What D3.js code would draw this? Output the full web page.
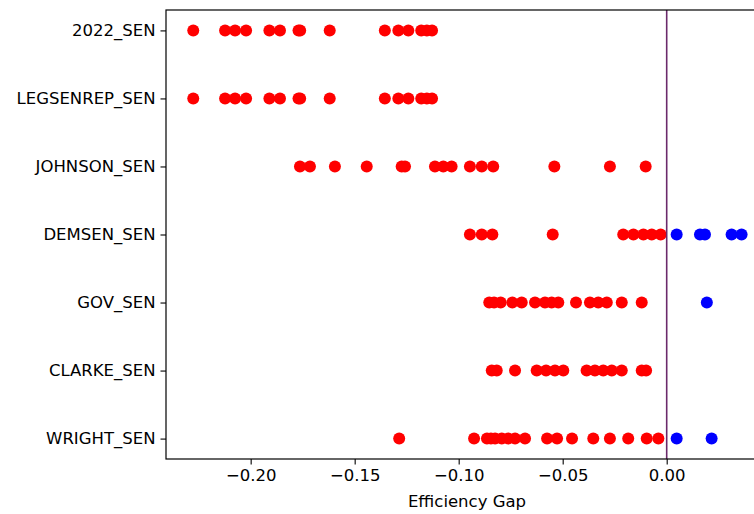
<!DOCTYPE html>
<html>
<head>
<meta charset="utf-8">
<script src="https://cdn.jsdelivr.net/npm/d3@7"></script>
<style>
  html, body { margin: 0; padding: 0; background: #fff; overflow: hidden; }
  text { font-family: "DejaVu Sans", sans-serif; }
</style>
</head>
<body>
<svg id="chart" width="754" height="514"></svg>
<script>
// Categories, bottom to top
const categories = ["WRIGHT_SEN", "CLARKE_SEN", "GOV_SEN", "DEMSEN_SEN", "JOHNSON_SEN", "LEGSENREP_SEN", "2022_SEN"];

// Efficiency gap values for each category
const wrightValues = [-0.1286, -0.0926, -0.0864, -0.0845, -0.0825, -0.0793, -0.0762, -0.0729, -0.0681, -0.0575, -0.0527, -0.0455, -0.0353, -0.0273, -0.0185, -0.0096, -0.0040, 0.0048, 0.0216];
const clarkeValues = [-0.0841, -0.0817, -0.0729, -0.0625, -0.0580, -0.0537, -0.0497, -0.0385, -0.0345, -0.0305, -0.0264, -0.0216, -0.0120, -0.0099];
const govValues = [-0.0853, -0.0830, -0.0798, -0.0742, -0.0697, -0.0633, -0.0585, -0.0553, -0.0521, -0.0436, -0.0369, -0.0329, -0.0288, -0.0216, -0.0120, 0.0193];
const demsenValues = [-0.0946, -0.0889, -0.0838, -0.0548, -0.0209, -0.0160, -0.0112, -0.0072, -0.0029, 0.0048, 0.0160, 0.0184, 0.0312, 0.0360];
const johnsonValues = [-0.1763, -0.1715, -0.1595, -0.1442, -0.1274, -0.1258, -0.1114, -0.1074, -0.1034, -0.0946, -0.0889, -0.0834, -0.0540, -0.0273, -0.0101];
const legsenrepValues = [-0.2276, -0.2123, -0.2075, -0.2022, -0.1910, -0.1859, -0.1770, -0.1762, -0.1620, -0.1355, -0.1290, -0.1242, -0.1180, -0.1153, -0.1128];
const sen2022Values = [-0.2276, -0.2123, -0.2075, -0.2022, -0.1910, -0.1859, -0.1770, -0.1762, -0.1620, -0.1355, -0.1290, -0.1242, -0.1180, -0.1153, -0.1128];

const seriesValues = [wrightValues, clarkeValues, govValues, demsenValues, johnsonValues, legsenrepValues, sen2022Values];

// Tick values / labels
const xTicks = [-0.20, -0.15, -0.10, -0.05, 0.00];
const xLabel = "Efficiency Gap";

const svg = d3.select("#chart");
const mLeft = 166, mRight = 768, mTop = 10, mBottom = 459;
const fs = 16.5;

const x = d3.scaleLinear().domain([-0.2407, 0.0487]).range([mLeft, mRight]);
const y = d3.scaleLinear().domain([-0.3, categories.length - 1 + 0.3]).range([mBottom, mTop]);

// points
const points = [];
seriesValues.forEach((vals, i) => vals.forEach(v => points.push({cat: i, v})));

svg.append("g").selectAll("circle").data(points).enter().append("circle")
  .attr("cx", d => x(d.v))
  .attr("cy", d => y(d.cat))
  .attr("r", 6)
  .attr("fill", d => d.v < 0 ? "#ff0000" : "#0000ff");

// vertical zero line
svg.append("line")
  .attr("x1", x(0)).attr("x2", x(0))
  .attr("y1", mTop).attr("y2", mBottom)
  .attr("stroke", "#6b2a6b").attr("stroke-width", 1.6);

// frame
svg.append("rect")
  .attr("x", mLeft).attr("y", mTop)
  .attr("width", mRight - mLeft).attr("height", mBottom - mTop)
  .attr("fill", "none").attr("stroke", "#000").attr("stroke-width", 1.2);

// x axis
const fmt = v => (v < 0 ? "\u2212" : "") + Math.abs(v).toFixed(2);
const xAxis = d3.axisBottom(x).tickValues(xTicks).tickFormat(fmt).tickSize(5.5).tickPadding(5);
const gx = svg.append("g").attr("transform", `translate(0,${mBottom})`).call(xAxis);
gx.select(".domain").remove();
gx.selectAll("text").attr("font-size", fs).attr("fill", "#000").attr("font-family", "DejaVu Sans, sans-serif");
gx.selectAll("line").attr("stroke", "#000").attr("stroke-width", 1.1);

// y axis
const yAxis = d3.axisLeft(y).tickValues(d3.range(categories.length)).tickFormat(i => categories[i]).tickSize(5.5).tickPadding(5);
const gy = svg.append("g").attr("transform", `translate(${mLeft},0)`).call(yAxis);
gy.select(".domain").remove();
gy.selectAll("text").attr("font-size", fs).attr("fill", "#000").attr("font-family", "DejaVu Sans, sans-serif");
gy.selectAll("line").attr("stroke", "#000").attr("stroke-width", 1.1);

// x label
svg.append("text")
  .attr("x", (mLeft + mRight) / 2)
  .attr("y", 507)
  .attr("text-anchor", "middle")
  .attr("font-size", fs)
  .attr("fill", "#000")
  .text(xLabel);
</script>
</body>
</html>
